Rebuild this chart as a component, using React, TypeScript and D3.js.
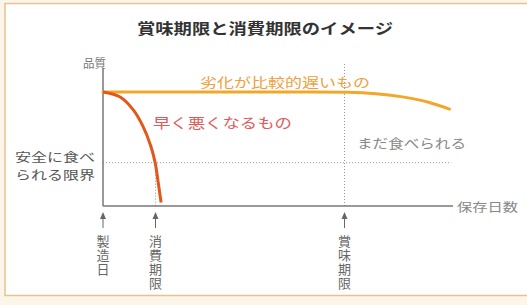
import React, { useRef, useEffect } from "react";
import * as d3 from "d3";

// ── Data ──────────────────────────────────────────────────────────────────────

const SLOW_DAYS = [0, 60, 70, 78, 86, 93, 99];
const SLOW_QUALITY = [100, 100, 99.7, 98.5, 95.5, 91, 85];

const FAST_DAYS = [0, 4.9, 8.6, 11.4, 13.6, 14.9, 15.75, 16.6];
const FAST_QUALITY = [100, 95.6, 84.5, 70, 53, 38, 21, 3];

const SAFE_LIMIT = 38;
const MARKER_DAYS = [0, 15, 69];
const MARKER_LABELS = ["製造日", "消費期限", "賞味期限"];

const TITLE = "賞味期限と消費期限のイメージ";

const W = 527;
const H = 305;
const FONT = "'Noto Sans CJK JP', 'Noto Sans', sans-serif";

export default function App() {
  const svgRef = useRef<SVGSVGElement>(null);

  useEffect(() => {
    if (!svgRef.current) return;
    const svg = d3.select(svgRef.current);
    svg.selectAll("*").remove();

    const x = d3.scaleLinear().domain([0, 100]).range([103, 453]);
    const y = d3.scaleLinear().domain([0, 100]).range([206, 92]);

    // frame
    svg.append("rect").attr("width", W).attr("height", H).attr("fill", "#fcf6ea");
    svg
      .append("rect")
      .attr("x", 5)
      .attr("y", 3.5)
      .attr("width", W)
      .attr("height", 292)
      .attr("fill", "#fff")
      .attr("stroke", "#e6c290")
      .attr("stroke-width", 1.5);

    svg
      .append("text")
      .attr("x", 137)
      .attr("y", 34)
      .attr("textLength", 256)
      .attr("lengthAdjust", "spacingAndGlyphs")
      .attr("font-family", FONT)
      .attr("font-size", 15)
      .attr("font-weight", "bold")
      .attr("fill", "#333")
      .text(TITLE);

    const dotted = (x1: number, y1: number, x2: number, y2: number) =>
      svg
        .append("line")
        .attr("x1", x1)
        .attr("y1", y1)
        .attr("x2", x2)
        .attr("y2", y2)
        .attr("stroke", "#999")
        .attr("stroke-width", 1)
        .attr("stroke-dasharray", "1,2");

    // guides
    dotted(x(0), y(SAFE_LIMIT), x(99.5), y(SAFE_LIMIT));
    dotted(x(MARKER_DAYS[1]), y(SAFE_LIMIT), x(MARKER_DAYS[1]), y(0));
    dotted(x(MARKER_DAYS[2]), 64, x(MARKER_DAYS[2]), y(0));

    // axes
    svg
      .append("line")
      .attr("x1", x(0))
      .attr("y1", 68)
      .attr("x2", x(0))
      .attr("y2", y(0))
      .attr("stroke", "#777")
      .attr("stroke-width", 1.5);
    svg
      .append("line")
      .attr("x1", x(0))
      .attr("y1", y(0))
      .attr("x2", x(100))
      .attr("y2", y(0))
      .attr("stroke", "#777")
      .attr("stroke-width", 1.5);

    const slowLine = d3
      .line<[number, number]>()
      .x((d) => x(d[0]))
      .y((d) => y(d[1]))
      .curve(d3.curveMonotoneX);

    const fastLine = d3
      .line<[number, number]>()
      .x((d) => x(d[0]))
      .y((d) => y(d[1]))
      .curve(d3.curveCatmullRom.alpha(0.5));

    svg
      .append("path")
      .datum(SLOW_DAYS.map((d, i) => [d, SLOW_QUALITY[i]] as [number, number]))
      .attr("d", slowLine)
      .attr("fill", "none")
      .attr("stroke", "#f2a72a")
      .attr("stroke-width", 3)
      .attr("stroke-linecap", "round");

    svg
      .append("path")
      .datum(FAST_DAYS.map((d, i) => [d, FAST_QUALITY[i]] as [number, number]))
      .attr("d", fastLine)
      .attr("fill", "none")
      .attr("stroke", "#e2581c")
      .attr("stroke-width", 3)
      .attr("stroke-linecap", "butt");

    const label = (
      t: string,
      lx: number,
      ly: number,
      len: number,
      size: number,
      color: string
    ) =>
      svg
        .append("text")
        .attr("x", lx)
        .attr("y", ly)
        .attr("textLength", len)
        .attr("lengthAdjust", "spacingAndGlyphs")
        .attr("font-family", FONT)
        .attr("font-size", size)
        .attr("fill", color)
        .text(t);

    label("品質", 83, 68, 23, 12, "#777");
    label("劣化が比較的遅いもの", 200, 87, 170, 13, "#f0a040");
    label("早く悪くなるもの", 153, 128, 139, 14, "#e05a5a");
    label("まだ食べられる", 357, 148, 109, 13, "#888");
    label("安全に食べ", 15, 162, 80, 12, "#555");
    label("られる限界", 15, 180, 80, 12, "#555");
    label("保存日数", 457, 212, 61, 12, "#888");

    // markers
    MARKER_DAYS.forEach((d, i) => {
      const mx = x(d);
      svg
        .append("line")
        .attr("x1", mx)
        .attr("y1", 228)
        .attr("x2", mx)
        .attr("y2", 217)
        .attr("stroke", "#666")
        .attr("stroke-width", 1);
      svg
        .append("path")
        .attr("d", `M${mx},212 L${mx - 3},219 L${mx + 3},219 Z`)
        .attr("fill", "#666");
      svg
        .append("text")
        .attr("x", mx)
        .attr("y", 235)
        .attr("writing-mode", "vertical-rl")
        .attr("font-family", FONT)
        .attr("font-size", 13)
        .attr("letter-spacing", 1)
        .attr("fill", "#666")
        .text(MARKER_LABELS[i]);
    });
  }, []);

  return (
    <svg
      ref={svgRef}
      width={W}
      height={H}
      style={{ position: "absolute", left: 0, top: 0, display: "block" }}
    />
  );
}
